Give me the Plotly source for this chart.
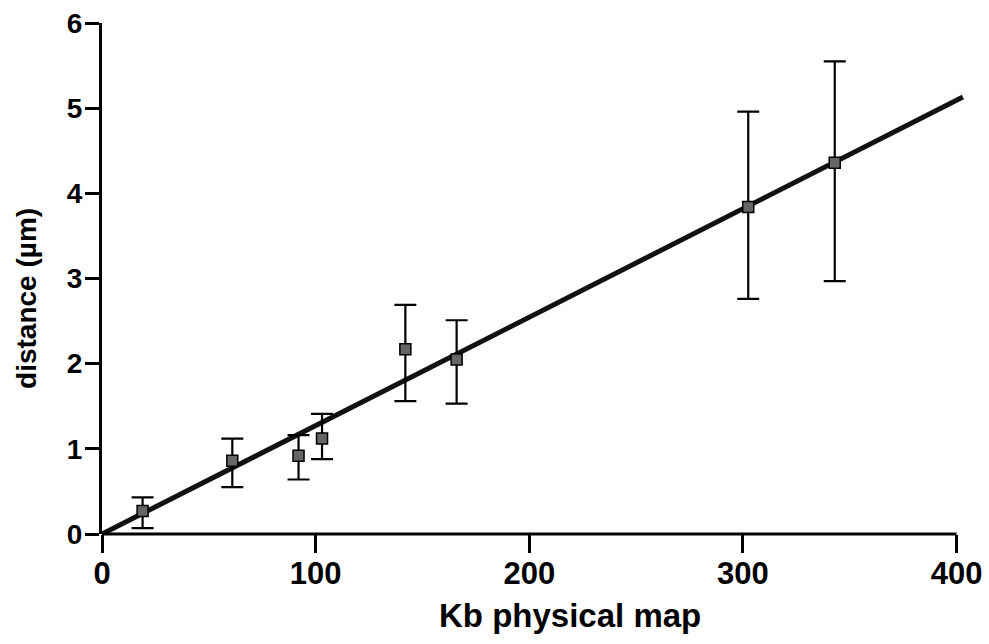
import plotly.graph_objects as go

# Data
kb = [19, 61, 92, 103, 142, 166, 302.5, 343]
dist = [0.27, 0.86, 0.92, 1.12, 2.17, 2.05, 3.84, 4.36]
dist_upper = [0.43, 1.12, 1.16, 1.41, 2.69, 2.51, 4.96, 5.55]
dist_lower = [0.07, 0.55, 0.64, 0.88, 1.56, 1.53, 2.76, 2.97]

fit_x = [0, 403]
fit_y = [0, 5.13]

x_ticks = [0, 100, 200, 300, 400]
y_ticks = [0, 1, 2, 3, 4, 5, 6]

FONT = "Liberation Sans"

err_plus = [u - v for u, v in zip(dist_upper, dist)]
err_minus = [v - l for v, l in zip(dist, dist_lower)]

fig = go.Figure()
fig.add_trace(go.Scatter(x=fit_x, y=fit_y, mode="lines",
                         line=dict(color="#111111", width=5),
                         showlegend=False, hoverinfo="skip"))
fig.add_trace(go.Scatter(
    x=kb, y=dist, mode="markers",
    marker=dict(symbol="square", size=11, color="#666666",
                line=dict(color="black", width=1.5)),
    error_y=dict(type="data", symmetric=False, array=err_plus,
                 arrayminus=err_minus, color="black", thickness=2.2, width=11),
    showlegend=False, cliponaxis=False))

fig.update_layout(
    width=989, height=644,
    margin=dict(l=102, r=25, t=23, b=110, autoexpand=False),
    paper_bgcolor="white", plot_bgcolor="white",
    font=dict(family=FONT, color="black"),
    xaxis=dict(range=[0, 403.5], tickvals=x_ticks, ticks="outside",
               ticklen=18, tickwidth=3, tickcolor="black", automargin=False,
               ticklabelstandoff=-6,
               showline=False, showgrid=False, zeroline=False,
               tickfont=dict(family=FONT, size=31, weight="bold", color="black")),
    yaxis=dict(range=[0, 6], tickvals=y_ticks, ticks="outside",
               ticklen=14, tickwidth=3, tickcolor="black", automargin=False,
               ticklabelstandoff=-3,
               showline=True, linewidth=3, linecolor="black",
               showgrid=False, zeroline=False,
               tickfont=dict(family=FONT, size=28, weight="bold", color="black")),
    shapes=[dict(type="line", xref="x", yref="y domain", x0=0, x1=400,
                 y0=0, y1=0, line=dict(color="black", width=3))],
    annotations=[
        dict(text="Kb physical map", xref="paper", yref="paper",
             x=0.543, y=-0.16, xanchor="center", yanchor="middle",
             showarrow=False,
             font=dict(family=FONT, size=33, weight="bold", color="black")),
        dict(text="distance (µm)", xref="paper", yref="paper",
             x=-0.087, y=0.46, xanchor="center", yanchor="middle",
             textangle=-90, showarrow=False,
             font=dict(family=FONT, size=28, weight="bold", color="black")),
    ],
)

fig.write_html("out.html", config={"displayModeBar": False},
               post_script="document.body.style.margin='0';document.body.style.overflow='hidden';")
